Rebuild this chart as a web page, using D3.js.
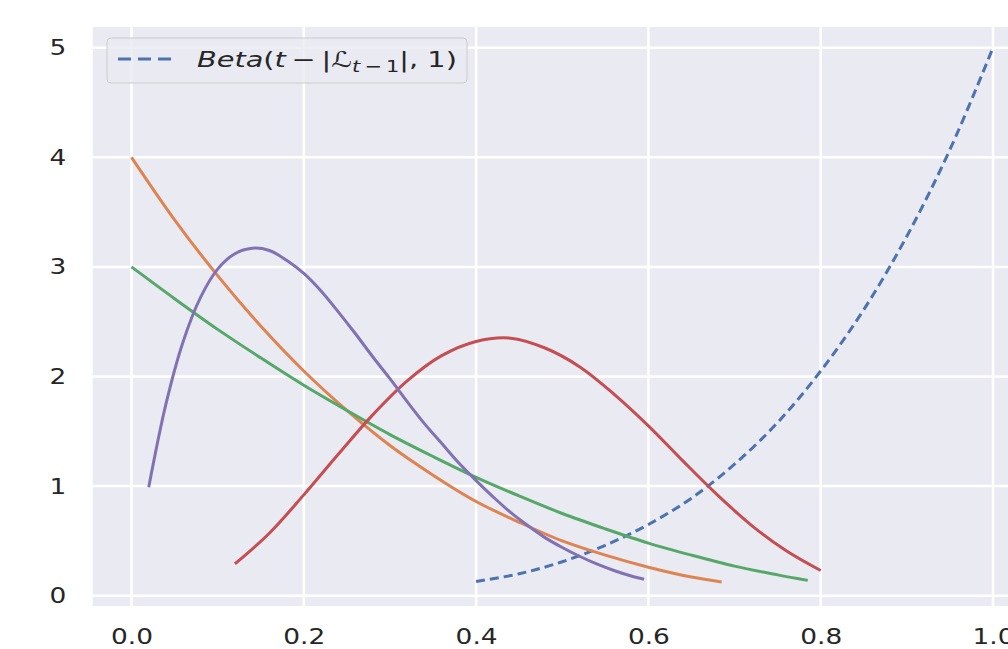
<!DOCTYPE html>
<html>
<head>
<meta charset="utf-8">
<script src="https://cdn.jsdelivr.net/npm/d3@7"></script>
<style>
  body { margin: 0; background: #fff; }
  text { font-family: "DejaVu Sans", sans-serif; fill: #262626; }
</style>
</head>
<body>
<svg id="chart" width="1008" height="649"></svg>
<script>
// tick labels
var xTicks = [0.0, 0.2, 0.4, 0.6, 0.8, 1.0];
var yTicks = [0, 1, 2, 3, 4, 5];

// curves (x, density)
var blueX   = [0.40, 0.45, 0.50, 0.55, 0.60, 0.65, 0.70, 0.75, 0.80, 0.85, 0.90, 0.95, 1.00];
var blueY   = [0.13, 0.20, 0.31, 0.46, 0.65, 0.89, 1.20, 1.58, 2.05, 2.61, 3.28, 4.07, 5.00];

var orangeX = [0.00, 0.05, 0.10, 0.15, 0.20, 0.25, 0.30, 0.35, 0.40, 0.45, 0.50, 0.55, 0.60, 0.65, 0.685];
var orangeY = [4.00, 3.43, 2.92, 2.46, 2.05, 1.69, 1.37, 1.10, 0.86, 0.67, 0.50, 0.37, 0.26, 0.17, 0.125];

var greenX  = [0.00, 0.05, 0.10, 0.15, 0.20, 0.25, 0.30, 0.35, 0.40, 0.45, 0.50, 0.55, 0.60, 0.65, 0.70, 0.75, 0.785];
var greenY  = [3.00, 2.71, 2.43, 2.17, 1.92, 1.69, 1.47, 1.27, 1.08, 0.91, 0.75, 0.61, 0.48, 0.37, 0.27, 0.19, 0.14];

var redX    = [0.12, 0.16, 0.20, 0.24, 0.28, 0.32, 0.36, 0.40, 0.44, 0.48, 0.52, 0.56, 0.60, 0.64, 0.68, 0.72, 0.76, 0.80];
var redY    = [0.29, 0.57, 0.92, 1.29, 1.65, 1.96, 2.19, 2.32, 2.35, 2.26, 2.09, 1.84, 1.55, 1.23, 0.92, 0.64, 0.41, 0.23];

var purpleX = [0.02, 0.04, 0.06, 0.08, 0.10, 0.12, 0.14, 0.16, 0.18, 0.20, 0.22, 0.24, 0.26, 0.28, 0.30,
               0.32, 0.34, 0.36, 0.38, 0.40, 0.42, 0.44, 0.46, 0.48, 0.50, 0.52, 0.54, 0.56, 0.58, 0.595];
var purpleY = [0.99, 1.75, 2.32, 2.72, 2.98, 3.12, 3.17, 3.15, 3.06, 2.94, 2.78, 2.59, 2.39, 2.18, 1.98,
               1.77, 1.57, 1.39, 1.21, 1.05, 0.90, 0.76, 0.64, 0.53, 0.44, 0.36, 0.29, 0.23, 0.18, 0.15];

var series = [
  {x: blueX,   y: blueY,   color: '#4C72B0', dash: '9,5'},
  {x: orangeX, y: orangeY, color: '#DD8452'},
  {x: greenX,  y: greenY,  color: '#55A868'},
  {x: redX,    y: redY,    color: '#C44E52'},
  {x: purpleX, y: purpleY, color: '#8172B3'}
];

var svg = d3.select('#chart');
var stretch = 1.2;   // the reference text is a little wider than it is tall

// scales
var xScale = d3.scaleLinear().domain([0, 1]).range([131.5, 993]);
var yScale = d3.scaleLinear().domain([0, 5]).range([595.7, 47.7]);

// axes background
var x0 = xScale(-0.045), x1 = xScale(1.1);
var y0 = yScale(5.19), y1 = yScale(-0.094);
svg.append('rect')
    .attr('x', x0).attr('y', y0)
    .attr('width', x1 - x0).attr('height', y1 - y0)
    .attr('fill', '#EAEAF2');

// grid
svg.selectAll('.vgrid').data(xTicks).enter().append('line')
    .attr('x1', d => xScale(d)).attr('x2', d => xScale(d))
    .attr('y1', y0).attr('y2', y1)
    .attr('stroke', '#fff').attr('stroke-width', 2.5);
svg.selectAll('.hgrid').data(yTicks).enter().append('line')
    .attr('x1', x0).attr('x2', x1)
    .attr('y1', d => yScale(d)).attr('y2', d => yScale(d))
    .attr('stroke', '#fff').attr('stroke-width', 2.5);

// axes (labels only, seaborn darkgrid has no tick marks)
var xAxis = d3.axisBottom(xScale).tickValues(xTicks).tickFormat(d3.format('.1f')).tickSize(0).tickPadding(22);
var yAxis = d3.axisLeft(yScale).tickValues(yTicks).tickFormat(d3.format('d')).tickSize(0);

svg.append('g').attr('transform', 'translate(0,' + y1 + ')').call(xAxis)
    .call(g => g.select('.domain').remove())
    .selectAll('text').style('font-size', '22px').attr('fill', '#262626')
    .attr('transform', 'scale(' + stretch + ',1)');
svg.append('g').attr('transform', 'translate(' + x0 + ',0)').call(yAxis)
    .call(g => g.select('.domain').remove())
    .selectAll('text').style('font-size', '22px').attr('fill', '#262626')
    .attr('x', -26.5 / stretch)
    .attr('transform', 'scale(' + stretch + ',1)');

// curves
var line = d3.line()
    .x(d => xScale(d[0]))
    .y(d => yScale(d[1]))
    .curve(d3.curveCatmullRom);

svg.selectAll('.curve').data(series).enter().append('path')
    .attr('d', s => line(s.x.map((v, i) => [v, s.y[i]])))
    .attr('fill', 'none')
    .attr('stroke', s => s.color)
    .attr('stroke-width', 3)
    .attr('stroke-dasharray', s => s.dash || null);

// legend
var leg = svg.append('g');
leg.append('rect')
    .attr('x', 107).attr('y', 38).attr('width', 360).attr('height', 45)
    .attr('rx', 4)
    .attr('fill', '#EAEAF2').attr('fill-opacity', 0.8)
    .attr('stroke', '#CCCCCC').attr('stroke-width', 1);
leg.append('line')
    .attr('x1', 118).attr('x2', 173).attr('y1', 59).attr('y2', 59)
    .attr('stroke', '#4C72B0').attr('stroke-width', 3)
    .attr('stroke-dasharray', '13,7');
var lt = leg.append('text').attr('x', 197).attr('y', 67).style('font-size', '22px');
lt.append('tspan').style('font-style', 'italic').text('Beta');
lt.append('tspan').text('(');
lt.append('tspan').style('font-style', 'italic').text('t');
lt.append('tspan').text('\u2009\u2212\u2009|');
lt.append('tspan').style('font-style', 'italic').text('\u2112');
lt.append('tspan').attr('dy', 5).style('font-size', '16px').style('font-style', 'italic').text('t');
lt.append('tspan').style('font-size', '16px').text('\u2009\u2212\u20091');
lt.append('tspan').attr('dy', -5).text('|, 1)');
// stretch legend label to the reference's width
var w = lt.node().getBBox().width;
lt.attr('transform', 'translate(197,0) scale(' + (260 / w) + ',1) translate(-197,0)');
</script>
</body>
</html>
